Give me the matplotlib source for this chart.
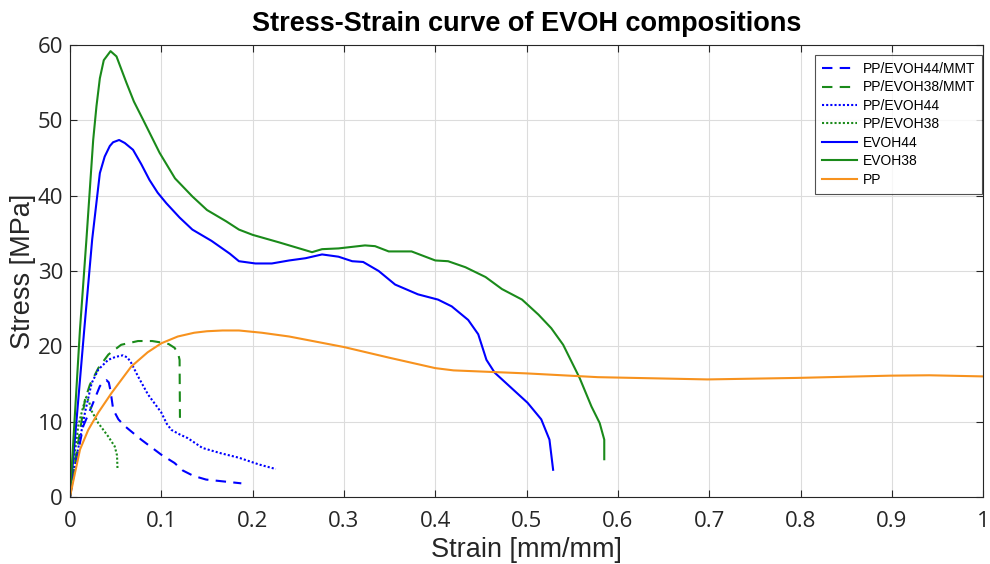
import matplotlib
matplotlib.use("Agg")
import matplotlib.pyplot as plt

# ---- data (strain [mm/mm], stress [MPa]) ----
pp_evoh44_mmt_x = [0, 0.005, 0.0145, 0.0237, 0.0327, 0.037, 0.040, 0.0425, 0.0445, 0.0473, 0.053, 0.060, 0.078, 0.100, 0.1145, 0.1236, 0.135, 0.149, 0.1876]
pp_evoh44_mmt_y = [0, 3.5, 9.4, 12.0, 14.7, 15.3, 15.5, 15.2, 14.0, 11.6, 10.3, 9.4, 7.6, 5.6, 4.5, 3.5, 2.8, 2.3, 1.8]

pp_evoh38_mmt_x = [0, 0.006, 0.0164, 0.0218, 0.031, 0.042, 0.056, 0.0745, 0.090, 0.100, 0.108, 0.1145, 0.1185, 0.120, 0.1204]
pp_evoh38_mmt_y = [0, 5.0, 12.9, 14.9, 17.1, 18.9, 20.2, 20.7, 20.7, 20.5, 20.3, 19.8, 19.0, 18.2, 10.5]

pp_evoh44_x = [0, 0.006, 0.0164, 0.0237, 0.031, 0.0418, 0.050, 0.058, 0.063, 0.067, 0.0745, 0.0854, 0.100, 0.106, 0.111, 0.120, 0.129, 0.145, 0.165, 0.185, 0.207, 0.2254]
pp_evoh44_y = [0, 4.5, 11.2, 15.1, 16.9, 18.2, 18.6, 18.8, 18.5, 17.8, 16.0, 13.6, 11.2, 9.7, 8.9, 8.3, 7.8, 6.5, 5.8, 5.2, 4.3, 3.7]

pp_evoh38_x = [0, 0.004, 0.009, 0.0145, 0.018, 0.021, 0.0237, 0.031, 0.042, 0.049, 0.0515, 0.052]
pp_evoh38_y = [0, 4.5, 9.4, 12.0, 13.3, 12.6, 11.4, 9.8, 8.0, 6.7, 5.5, 3.8]

evoh44_x = [0, 0.0156, 0.0243, 0.0327, 0.038, 0.0436, 0.0472, 0.0538, 0.060, 0.069, 0.078, 0.087, 0.096, 0.1055, 0.120, 0.134,
            0.155, 0.175, 0.185, 0.203, 0.221,
            0.240, 0.258, 0.276, 0.294, 0.309, 0.321, 0.338, 0.356, 0.381, 0.403, 0.418, 0.436, 0.447, 0.456, 0.465,
            0.483, 0.501, 0.516, 0.525, 0.529]
evoh44_y = [0, 22.2, 34.2, 43.0, 45.2, 46.6, 47.1, 47.4, 47.0, 46.1, 44.2, 42.1, 40.4, 39.0, 37.1, 35.5,
            34.0, 32.3, 31.3, 31.0, 31.0,
            31.4, 31.7, 32.2, 31.9, 31.3, 31.2, 30.0, 28.2, 26.9, 26.2, 25.3, 23.5, 21.6, 18.2, 16.5,
            14.5, 12.5, 10.3, 7.6, 3.6]

evoh38_x = [0, 0.0109, 0.018, 0.0254, 0.029, 0.0327, 0.037, 0.0444, 0.0509, 0.0618, 0.070, 0.080, 0.0981, 0.115, 0.134, 0.150, 0.171,
            0.185, 0.200, 0.229,
            0.265, 0.276, 0.294, 0.323, 0.334, 0.349, 0.374, 0.400, 0.414, 0.433, 0.455, 0.473, 0.495, 0.513,
            0.527, 0.540, 0.549, 0.558, 0.571, 0.580, 0.585, 0.585]
evoh38_y = [0, 22.2, 34.2, 47.4, 51.9, 55.6, 58.0, 59.2, 58.5, 55.0, 52.5, 50.1, 45.7, 42.3, 39.9, 38.1, 36.6,
            35.5, 34.8, 33.8,
            32.5, 32.9, 33.0, 33.4, 33.3, 32.6, 32.6, 31.4, 31.3, 30.5, 29.2, 27.6, 26.2, 24.2,
            22.4, 20.2, 18.0, 15.8, 12.0, 9.8, 7.6, 5.0]

pp_x = [0, 0.0055, 0.011, 0.020, 0.031, 0.0455, 0.067, 0.085, 0.100, 0.118, 0.136, 0.150, 0.167, 0.185, 0.210, 0.240, 0.270, 0.300,
        0.349, 0.400, 0.420, 0.440, 0.500, 0.578, 0.698, 0.796, 0.898, 0.941, 1.0]
pp_y = [0, 3.2, 6.3, 8.9, 11.2, 13.8, 17.3, 19.2, 20.4, 21.3, 21.8, 22.0, 22.1, 22.1, 21.8, 21.3, 20.6, 19.9,
        18.5, 17.1, 16.8, 16.7, 16.4, 15.9, 15.6, 15.8, 16.1, 16.15, 16.0]

labels = ["PP/EVOH44/MMT", "PP/EVOH38/MMT", "PP/EVOH44", "PP/EVOH38", "EVOH44", "EVOH38", "PP"]
xticks = [0, 0.1, 0.2, 0.3, 0.4, 0.5, 0.6, 0.7, 0.8, 0.9, 1]
xticklabels = ["0", "0.1", "0.2", "0.3", "0.4", "0.5", "0.6", "0.7", "0.8", "0.9", "1"]
yticks = [0, 10, 20, 30, 40, 50, 60]

BLUE = "#0000FF"
GREEN = "#1A8A1A"
ORANGE = "#F7921E"

fig = plt.figure(figsize=(9.9, 5.64), dpi=100)
ax = fig.add_axes([0.0707, 0.119, 0.9225, 0.801])

lw = 1.5
kw = dict(lw=lw, solid_joinstyle="round", dash_joinstyle="round")
ax.plot(pp_evoh44_mmt_x, pp_evoh44_mmt_y, color=BLUE, ls=(0, (5, 3.5)), label=labels[0], **kw)
ax.plot(pp_evoh38_mmt_x, pp_evoh38_mmt_y, color=GREEN, ls=(0, (5, 3.5)), label=labels[1], **kw)
ax.plot(pp_evoh44_x, pp_evoh44_y, color=BLUE, ls=(0, (1, 1)), label=labels[2], **kw)
ax.plot(pp_evoh38_x, pp_evoh38_y, color=GREEN, ls=(0, (1, 1)), label=labels[3], **kw)
ax.plot(evoh44_x, evoh44_y, color=BLUE, label=labels[4], **kw)
ax.plot(evoh38_x, evoh38_y, color=GREEN, label=labels[5], **kw)
ax.plot(pp_x, pp_y, color=ORANGE, label=labels[6], **kw)

ax.set_xlim(0, 1)
ax.set_ylim(0, 60)
ax.set_xticks(xticks)
ax.set_xticklabels(xticklabels)
ax.set_yticks(yticks)
ax.grid(True, color="#DCDCDC", lw=0.8)
ax.set_axisbelow(True)
for s in ax.spines.values():
    s.set_color("#262626")
    s.set_linewidth(0.8)
ax.tick_params(direction="in", top=True, right=True, length=5, width=0.8,
               colors="#262626", labelsize=16)
ax.tick_params(axis="x", pad=10)
ax.tick_params(axis="y", pad=5)
for lab in ax.get_xticklabels() + ax.get_yticklabels():
    lab.set_fontfamily("Open Sans")

ax.set_xlabel("Strain [mm/mm]", fontsize=19.5, family="Liberation Sans", color="#262626", labelpad=4)
ax.set_ylabel("Stress [MPa]", fontsize=19.5, family="Liberation Sans", color="#262626", labelpad=1)
ax.set_title("Stress-Strain curve of EVOH compositions", fontsize=19.5, fontweight="bold",
             family="Liberation Sans", pad=10)

leg = ax.legend(loc="upper right", bbox_to_anchor=(0.9985, 0.978), borderaxespad=0,
                frameon=True, fancybox=False, handlelength=2.5,
                handletextpad=0.4, labelspacing=0.32, borderpad=0.5,
                prop={"family": "Liberation Sans", "size": 10})
leg.get_frame().set_edgecolor("#262626")
leg.get_frame().set_linewidth(0.8)

fig.savefig("out.png", dpi=100)
